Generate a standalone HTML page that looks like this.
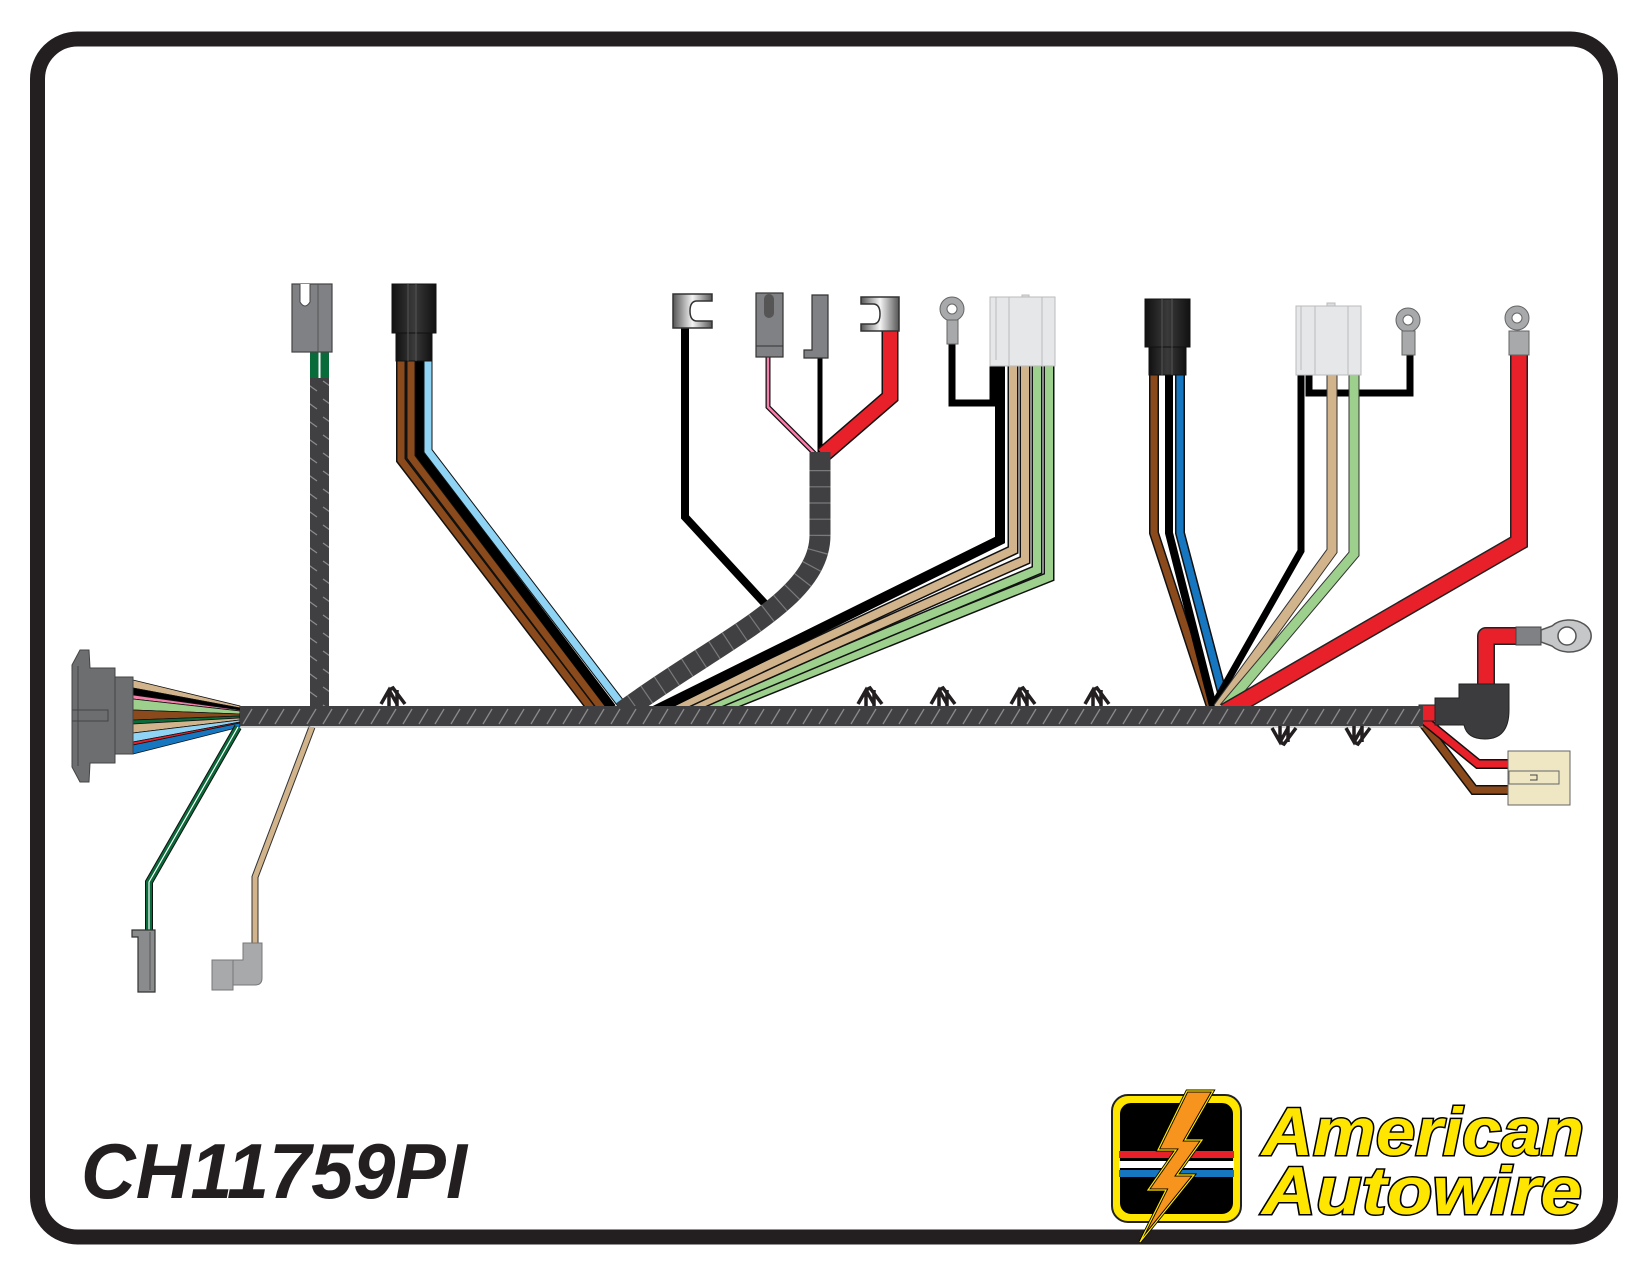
<!DOCTYPE html>
<html><head><meta charset="utf-8"><style>
html,body{margin:0;padding:0;background:#fff}
svg{display:block}
</style></head><body>
<svg width="1650" height="1275" viewBox="0 0 1650 1275" xmlns="http://www.w3.org/2000/svg">
<defs>
<pattern id="hatch" patternUnits="userSpaceOnUse" width="16" height="20" patternTransform="translate(0,706)">
<rect width="16" height="20" fill="#404042"/>
<line x1="3" y1="18" x2="12" y2="3" stroke="#8a8a8c" stroke-width="1.3"/>
</pattern>
<pattern id="hatchv" patternUnits="userSpaceOnUse" width="20" height="18">
<rect width="20" height="18" fill="#404042"/>
<line x1="3" y1="3" x2="17" y2="13" stroke="#8a8a8c" stroke-width="1.3"/>
</pattern>
<linearGradient id="met" x1="0" x2="1"><stop offset="0" stop-color="#555"/><stop offset="0.5" stop-color="#f4f4f4"/><stop offset="1" stop-color="#555"/></linearGradient>
<linearGradient id="blk" x1="0" x2="1"><stop offset="0" stop-color="#111"/><stop offset="0.5" stop-color="#3a3a3a"/><stop offset="1" stop-color="#111"/></linearGradient>
</defs>

<rect x="37.5" y="39" width="1573" height="1198" rx="40" fill="none" stroke="#231f20" stroke-width="15"/>

<g stroke="#111" stroke-width="0.8">
<polygon points="133,680 240,706 240,708 133,688" fill="#d2b48c"/>
<polygon points="133,688 240,708 240,710 133,695" fill="#000"/>
<polygon points="133,695 240,710 240,711 133,699" fill="#f47fab"/>
<polygon points="133,699 240,711 240,714 133,710" fill="#9cd08c"/>
<polygon points="133,710 240,714 240,716 133,720" fill="#8b4a1c"/>
<polygon points="133,720 240,716 240,718 133,724" fill="#0a6b3a"/>
<polygon points="133,724 240,718 240,720 133,733" fill="#d2b48c"/>
<polygon points="133,733 240,720 240,722 133,742" fill="#8fd4f4"/>
<polygon points="133,742 240,722 240,723 133,745" fill="#e8202a"/>
<polygon points="133,745 240,723 240,727 133,754" fill="#1677c0"/>
</g>
<path d="M72,665 L80,650 L89,650 L90,668 L115,668 L115,763 L90,763 L89,782 L80,782 L72,767 Z" fill="#6d6e70" stroke="#444" stroke-width="1"/>
<rect x="115" y="677" width="18" height="77" fill="#6d6e70" stroke="#444" stroke-width="1"/>
<rect x="72" y="710" width="36" height="11" fill="#6d6e70" stroke="#444" stroke-width="1"/>
<line x1="78" y1="666" x2="78" y2="766" stroke="#444"/>

<polyline points="238,727 149,882 149,930" fill="none" stroke="#111" stroke-width="8"/>
<polyline points="238,727 149,882 149,930" fill="none" stroke="#0a6b3a" stroke-width="6"/>
<polyline points="238,727 149,882 149,930" fill="none" stroke="#fff" stroke-width="1.2"/>
<path d="M132,930 L155,930 L155,992 L138,992 L138,937 L132,937 Z" fill="#8a8b8d" stroke="#333" stroke-width="1.2"/>
<line x1="150" y1="932" x2="150" y2="990" stroke="#555"/>
<polyline points="312,727 255,877 255,943" fill="none" stroke="#333" stroke-width="7"/>
<polyline points="312,727 255,877 255,943" fill="none" stroke="#d2b48c" stroke-width="5"/>
<path d="M243,943 L262,943 L262,978 Q262,985 255,985 L233,985 L233,960 L243,960 Z" fill="#a7a9ab" stroke="#777" stroke-width="1"/>
<rect x="212" y="960" width="21" height="30" fill="#a7a9ab" stroke="#777" stroke-width="1"/>

<rect x="310" y="352" width="19" height="30" fill="#0a6b3a"/>
<line x1="319.5" y1="352" x2="319.5" y2="380" stroke="#fff" stroke-width="2"/>
<rect x="310" y="378" width="19" height="330" fill="url(#hatchv)"/>
<rect x="292" y="284" width="40" height="68" fill="#808184" stroke="#444" stroke-width="1.2"/>
<line x1="318" y1="284" x2="318" y2="352" stroke="#555"/>
<path d="M300,284 L300,302 Q305,310 310,302 L310,284" fill="#fff" stroke="#444" stroke-width="1"/>

<g fill="none" stroke-linejoin="miter">
<polyline points="401,361 401,460 594,712" stroke="#111" stroke-width="10"/>
<polyline points="401,361 401,460 594,712" stroke="#8b4a1c" stroke-width="7"/>
<polyline points="411,361 411,457 603,710" stroke="#111" stroke-width="10"/>
<polyline points="411,361 411,457 603,710" stroke="#8b4a1c" stroke-width="7"/>
<polyline points="420,361 420,454 612,708" stroke="#000" stroke-width="9"/>
<polyline points="428,361 428,451 622,705" stroke="#111" stroke-width="9"/>
<polyline points="428,361 428,451 622,705" stroke="#8fd4f4" stroke-width="7"/>
</g>
<rect x="392" y="284" width="44" height="49" fill="url(#blk)" stroke="#111"/>
<rect x="396" y="333" width="36" height="28" fill="url(#blk)" stroke="#111"/>
<line x1="408" y1="284" x2="408" y2="361" stroke="#555"/><line x1="416" y1="284" x2="416" y2="361" stroke="#555"/>

<g fill="none" stroke-linejoin="miter">
<polyline points="685,328 685,517 767,606" stroke="#000" stroke-width="8"/>
<polyline points="768,357 768,407 815,454" stroke="#111" stroke-width="5"/>
<polyline points="768,357 768,407 815,454" stroke="#f47fab" stroke-width="2.5"/>
<polyline points="820,358 820,455" stroke="#000" stroke-width="5"/>
<polyline points="890,331 890,397 823,455" stroke="#111" stroke-width="17"/>
<polyline points="890,331 890,397 823,455" stroke="#e8202a" stroke-width="14"/>
</g>
<path d="M820,452 L820,535 C820,600 720,640 622,712" fill="none" stroke="#404042" stroke-width="21"/>
<path d="M820,470 L820,535 C820,600 720,640 622,712" fill="none" stroke="#888" stroke-width="21" stroke-dasharray="1.2 15" opacity="0.8"/>
<path d="M673,294 L712,294 L712,301 L697,301 Q690,301 690,311 Q690,321 697,321 L712,321 L712,328 L673,328 Z" fill="url(#met)" stroke="#333" stroke-width="1.5"/>
<rect x="756" y="293" width="27" height="64" fill="#808184" stroke="#333" stroke-width="1.2"/>
<rect x="764" y="294" width="10" height="24" rx="5" fill="#555"/>
<line x1="756" y1="346" x2="783" y2="346" stroke="#333"/>
<path d="M812,295 L828,295 L828,358 L804,358 L804,350 L812,350 Z" fill="#808184" stroke="#333" stroke-width="1.2"/>
<path d="M899,297 L861,297 L861,304 L873,304 Q880,304 880,314 Q880,324 873,324 L861,324 L861,331 L899,331 Z" fill="url(#met)" stroke="#333" stroke-width="1.5"/>
<polyline points="952,344 952,403 993,403 993,360" fill="none" stroke="#000" stroke-width="7"/>
<circle cx="952" cy="309" r="12" fill="#a7a9ab" stroke="#666"/><circle cx="952" cy="309" r="5" fill="#fff" stroke="#666"/>
<rect x="947" y="320" width="11" height="24" fill="#a7a9ab" stroke="#666"/>

<g fill="none" stroke-linejoin="miter">
<polyline points="1049,366 1049,577 713,712" stroke="#111" stroke-width="11"/>
<polyline points="1049,366 1049,577 713,712" stroke="#9cd08c" stroke-width="8"/>
<polyline points="1037,366 1037,570 697,712" stroke="#111" stroke-width="11"/>
<polyline points="1037,366 1037,570 697,712" stroke="#9cd08c" stroke-width="8"/>
<polyline points="1025,366 1025,560 682,712" stroke="#111" stroke-width="11"/>
<polyline points="1025,366 1025,560 682,712" stroke="#d2b48c" stroke-width="8"/>
<polyline points="1013,366 1013,550 667,712" stroke="#111" stroke-width="11"/>
<polyline points="1013,366 1013,550 667,712" stroke="#d2b48c" stroke-width="8"/>
<polyline points="1000,360 1000,540 652,712" stroke="#000" stroke-width="10"/>
</g>
<rect x="1022" y="295" width="7" height="4" fill="#ddd" stroke="#bbb"/>
<rect x="990" y="297" width="65" height="69" fill="#e6e7e8" stroke="#bbb"/>
<line x1="996" y1="297" x2="996" y2="360" stroke="#bbb"/><line x1="1009" y1="297" x2="1009" y2="366" stroke="#bbb"/><line x1="1042" y1="297" x2="1042" y2="366" stroke="#bbb"/>

<g fill="none" stroke-linejoin="miter">
<polyline points="1154,375 1154,533 1212,710" stroke="#111" stroke-width="10"/>
<polyline points="1154,375 1154,533 1212,710" stroke="#8b4a1c" stroke-width="7"/>
<polyline points="1169,375 1169,533 1214,710" stroke="#000" stroke-width="8"/>
<polyline points="1180,375 1180,533 1224,700" stroke="#111" stroke-width="10"/>
<polyline points="1180,375 1180,533 1224,700" stroke="#1677c0" stroke-width="7"/>
<polyline points="1301,306 1301,551 1212,708" stroke="#000" stroke-width="7"/>
<polyline points="1309,375 1309,393 1410,393 1410,354" stroke="#000" stroke-width="7"/>
<polyline points="1332,375 1332,551 1218,708" stroke="#333" stroke-width="11"/>
<polyline points="1332,375 1332,551 1218,708" stroke="#d2b48c" stroke-width="9"/>
<polyline points="1354,375 1354,554 1224,708" stroke="#333" stroke-width="11"/>
<polyline points="1354,375 1354,554 1224,708" stroke="#9cd08c" stroke-width="9"/>
<polyline points="1519,354 1519,542 1225,712" stroke="#222" stroke-width="18"/>
<polyline points="1519,354 1519,542 1225,712" stroke="#e8202a" stroke-width="15"/>
</g>
<rect x="1145" y="299" width="45" height="48" fill="url(#blk)" stroke="#111"/>
<rect x="1149" y="347" width="37" height="28" fill="url(#blk)" stroke="#111"/>
<line x1="1162" y1="299" x2="1162" y2="375" stroke="#555"/><line x1="1172" y1="299" x2="1172" y2="375" stroke="#555"/>
<rect x="1327" y="303" width="8" height="4" fill="#ddd" stroke="#bbb"/>
<rect x="1296" y="306" width="65" height="69" fill="#e6e7e8" stroke="#bbb"/>
<line x1="1301" y1="306" x2="1301" y2="370" stroke="#bbb"/><line x1="1315" y1="306" x2="1315" y2="375" stroke="#bbb"/><line x1="1348" y1="306" x2="1348" y2="375" stroke="#bbb"/>
<circle cx="1408" cy="320" r="12" fill="#a7a9ab" stroke="#666"/><circle cx="1408" cy="320" r="5" fill="#fff" stroke="#666"/>
<rect x="1402" y="331" width="13" height="24" fill="#a7a9ab" stroke="#666"/>
<circle cx="1517" cy="318" r="12" fill="#a7a9ab" stroke="#666"/><circle cx="1517" cy="318" r="5" fill="#fff" stroke="#666"/>
<rect x="1509" y="331" width="20" height="24" fill="#a7a9ab" stroke="#666"/>

<g fill="none" stroke-linejoin="miter">
<polyline points="1419,718 1474,790 1509,790" stroke="#111" stroke-width="10"/>
<polyline points="1419,718 1474,790 1509,790" stroke="#8b4a1c" stroke-width="7"/>
<polyline points="1419,716 1478,764 1509,764" stroke="#111" stroke-width="10"/>
<polyline points="1419,716 1478,764 1509,764" stroke="#e8202a" stroke-width="7"/>
</g>
<rect x="1508" y="751" width="62" height="54" fill="#efe6c4" stroke="#666"/>
<rect x="1509" y="771" width="50" height="13" fill="#efe6c4" stroke="#666"/>
<path d="M1530,775 L1537,775 L1537,780 L1530,780" fill="none" stroke="#444"/>

<path d="M1486,690 L1486,636 L1518,636" fill="none" stroke="#222" stroke-width="18" stroke-linejoin="round"/>
<path d="M1486,690 L1486,636 L1518,636" fill="none" stroke="#e8202a" stroke-width="15" stroke-linejoin="round"/>
<rect x="1516" y="627" width="25" height="18" fill="#808184" stroke="#444"/>
<path d="M1541,630 L1552,626 A22,16 0 1 1 1552,646 L1541,642 Z" fill="#c6c7c9" stroke="#555" stroke-width="1.5"/>
<circle cx="1567" cy="636" r="9" fill="#fff" stroke="#555" stroke-width="1.5"/>
<rect x="1419" y="705" width="18" height="16" fill="#e8202a" stroke="#222"/>
<path d="M1459,684 L1509,684 L1509,710 Q1509,739 1485,739 Q1467,739 1464,725 L1435,725 L1435,698 L1459,698 Z" fill="#3c3c3e" stroke="#222"/>

<rect x="240" y="706" width="1183" height="20" fill="url(#hatch)"/>
<line x1="240" y1="727" x2="1423" y2="727" stroke="#aaa" stroke-width="1"/>

<g fill="none" stroke="#231f20" stroke-width="3.5">
<g transform="translate(393,0)"><path d="M-12,704 L-4,690 L4,704 M-4,690 L-4,706 M4,690 L4,706 M-4,690 L0,688 L12,704"/></g>
<g transform="translate(870,0)"><path d="M-12,704 L-4,690 L4,704 M-4,690 L-4,706 M4,690 L4,706 M-4,690 L0,688 L12,704"/></g>
<g transform="translate(943,0)"><path d="M-12,704 L-4,690 L4,704 M-4,690 L-4,706 M4,690 L4,706 M-4,690 L0,688 L12,704"/></g>
<g transform="translate(1023,0)"><path d="M-12,704 L-4,690 L4,704 M-4,690 L-4,706 M4,690 L4,706 M-4,690 L0,688 L12,704"/></g>
<g transform="translate(1097,0)"><path d="M-12,704 L-4,690 L4,704 M-4,690 L-4,706 M4,690 L4,706 M-4,690 L0,688 L12,704"/></g>
<g transform="translate(1284,0)"><path d="M-12,728 L-4,742 L4,728 M-4,742 L-4,726 M4,742 L4,726 M-4,742 L0,744 L12,728"/></g>
<g transform="translate(1358,0)"><path d="M-12,728 L-4,742 L4,728 M-4,742 L-4,726 M4,742 L4,726 M-4,742 L0,744 L12,728"/></g>
</g>

<text x="81" y="1198" font-family="Liberation Sans, sans-serif" font-weight="bold" font-style="italic" font-size="78" fill="#231f20" textLength="386" lengthAdjust="spacingAndGlyphs">CH11759PI</text>

<rect x="1112" y="1095" width="129" height="127" rx="16" fill="#ffe600" stroke="#222" stroke-width="2"/>
<rect x="1119" y="1102" width="115" height="113" rx="12" fill="#000" stroke="#ffe600" stroke-width="2"/>
<rect x="1119" y="1151" width="115" height="7" fill="#e8202a"/>
<rect x="1119" y="1161" width="115" height="7" fill="#fff"/>
<rect x="1119" y="1170" width="115" height="7" fill="#1677c0"/>
<path d="M1213,1091 L1187,1091 L1158,1150 L1176,1150 L1148,1190 L1166,1190 L1140,1242 L1194,1175 L1177,1175 L1202,1140 L1185,1140 Z" fill="#f7941d" stroke="#000" stroke-width="3"/>
<path d="M1213,1091 L1187,1091 L1158,1150 L1176,1150 L1148,1190 L1166,1190 L1140,1242 L1194,1175 L1177,1175 L1202,1140 L1185,1140 Z" fill="none" stroke="#ffe600" stroke-width="1.2"/>
<g font-family="Liberation Sans, sans-serif" font-weight="bold" font-style="italic" font-size="68" fill="#ffe600" stroke="#000" stroke-width="3" paint-order="stroke">
<text x="1262" y="1155" textLength="322" lengthAdjust="spacingAndGlyphs">American</text>
<text x="1262" y="1214" textLength="320" lengthAdjust="spacingAndGlyphs">Autowire</text>
</g>
</svg>
</body></html>
